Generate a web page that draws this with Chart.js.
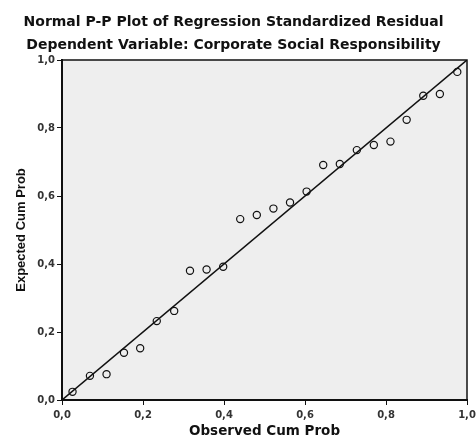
<!DOCTYPE html>
<html>
<head>
<meta charset="utf-8">
<script src="https://cdn.jsdelivr.net/npm/chart.js@4.4.1/dist/chart.umd.min.js"></script>
<style>
  html, body { margin: 0; padding: 0; background: #fff; }
  #plot { display: block; }
</style>
</head>
<body>
<canvas id="plot" width="476" height="440"></canvas>
<script>
// observed vs expected cumulative probabilities
const observedCum = [0.026, 0.069, 0.110, 0.153, 0.193, 0.234, 0.277, 0.316, 0.357, 0.398,
                     0.440, 0.481, 0.522, 0.563, 0.604, 0.645, 0.686, 0.728, 0.770, 0.811,
                     0.851, 0.892, 0.933, 0.976];
const expectedCum = [0.024, 0.071, 0.076, 0.139, 0.152, 0.232, 0.262, 0.380, 0.384, 0.392,
                     0.532, 0.544, 0.563, 0.581, 0.613, 0.691, 0.694, 0.735, 0.750, 0.760,
                     0.824, 0.895, 0.900, 0.965];
// the 45 degree reference line
const refX = [0, 1];
const refY = [0, 1];
const tickValues = [0, 0.2, 0.4, 0.6, 0.8, 1.0];

const fmt = v => v.toFixed(1).replace(".", ",");

const plotFrame = {
	id: "plotFrame",
	beforeDraw(chart) {
		const { ctx, chartArea: a } = chart;
		ctx.save();
		ctx.fillStyle = "#eeeeee";
		ctx.fillRect(a.left, a.top, a.right - a.left, a.bottom - a.top);
		ctx.restore();
	},
	afterDraw(chart) {
		const { ctx, chartArea: a } = chart;
		ctx.save();
		ctx.strokeStyle = "#111";
		ctx.lineWidth = 1.5;
		ctx.strokeRect(a.left, a.top, a.right - a.left, a.bottom - a.top);
		ctx.restore();
	}
};

const tickFont = { family: "DejaVu Sans", size: 10, weight: "bold" };

const ctx = document.getElementById("plot").getContext("2d");
let ppPlot = new Chart(ctx, {
	type: "scatter",
	data: {
		datasets: [
			{
				label: "Residuals",
				data: observedCum.map((x, i) => ({ x: x, y: expectedCum[i] })),
				pointStyle: "circle",
				pointRadius: 3.6,
				pointBorderWidth: 1.2,
				pointBorderColor: "#111",
				pointBackgroundColor: "rgba(0,0,0,0)",
				showLine: false,
			},
			{
				label: "Reference",
				type: "line",
				data: refX.map((x, i) => ({ x: x, y: refY[i] })),
				borderColor: "#111",
				borderWidth: 1.5,
				pointRadius: 0,
				fill: false,
			},
		],
	},
	options: {
		responsive: false,
		animation: false,
		devicePixelRatio: 1,
		layout: { padding: { left: 0, right: 9, top: 0, bottom: 0 } },
		plugins: {
			legend: { display: false },
			tooltip: { enabled: false },
			title: {
				display: true,
				text: "Normal P-P Plot of Regression Standardized Residual",
				color: "#111",
				font: { family: "DejaVu Sans", size: 14, weight: "bold" },
				padding: { top: 13.6, bottom: 0 },
			},
			subtitle: {
				display: true,
				text: "Dependent Variable: Corporate Social Responsibility",
				color: "#111",
				font: { family: "DejaVu Sans", size: 14, weight: "bold" },
				padding: { top: 6.2, bottom: 6.6 },
			},
		},
		scales: {
			x: {
				type: "linear",
				min: 0,
				max: 1,
				afterBuildTicks: s => { s.ticks = tickValues.map(v => ({ value: v })); },
				afterFit: s => { s.height = 40; s.paddingLeft = 0; s.paddingRight = 0; },
				grid: {
					drawOnChartArea: false,
					drawTicks: true,
					tickLength: 5,
					tickColor: "#111",
				},
				border: { display: true, color: "#111", width: 2 },
				ticks: {
					color: "#333",
					padding: 4,
					maxRotation: 0,
					font: tickFont,
					callback: v => fmt(v),
				},
				title: {
					display: true,
					text: "Observed Cum Prob",
					color: "#111",
					font: { family: "DejaVu Sans", size: 13.5, weight: "bold" },
					padding: { top: 0, bottom: 0 },
				},
			},
			y: {
				type: "linear",
				min: 0,
				max: 1,
				afterBuildTicks: s => { s.ticks = tickValues.map(v => ({ value: v })); },
				afterFit: s => { s.width = 62; s.paddingTop = 0; s.paddingBottom = 0; },
				grid: {
					drawOnChartArea: false,
					drawTicks: true,
					tickLength: 5,
					tickColor: "#111",
				},
				border: { display: true, color: "#111", width: 2 },
				ticks: {
					color: "#333",
					padding: 2,
					font: tickFont,
					callback: v => fmt(v),
				},
				title: {
					display: true,
					text: "Expected Cum Prob",
					color: "#111",
					font: { family: "Liberation Sans", size: 13, weight: "bold" },
					padding: { top: 14, bottom: 0 },
				},
			},
		},
	},
	plugins: [plotFrame],
});
</script>
</body>
</html>
